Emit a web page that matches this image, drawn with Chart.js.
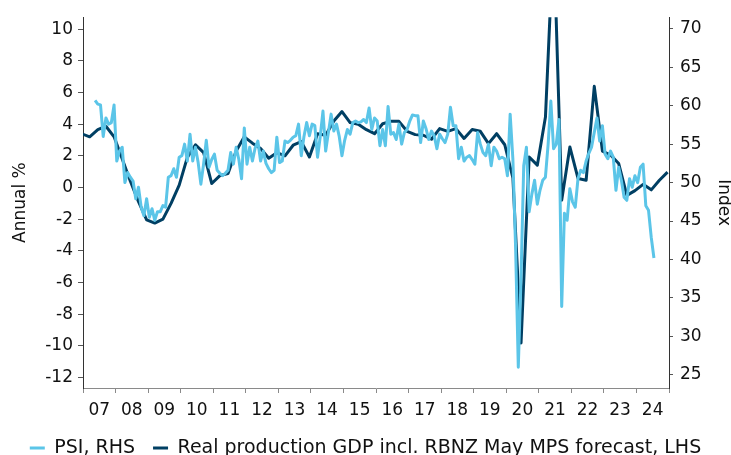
<!DOCTYPE html>
<html>
<head>
<meta charset="utf-8">
<script src="https://cdn.jsdelivr.net/npm/chart.js@4.4.1/dist/chart.umd.min.js"></script>
<style>
  html, body { margin: 0; padding: 0; background: #ffffff; }
</style>
</head>
<body>
<canvas id="data" width="731" height="455"></canvas>
<script>
// tick labels of the year axis
const yearLabels = ["07", "08", "09", "10", "11", "12", "13", "14", "15", "16", "17", "18", "19", "20", "21", "22", "23", "24"];

// PSI, monthly, from April 2007 to June 2024 (index, RHS)
const psiStart = [2007, 4];
const psiValues = [
  60.7, 60.2, 60.1, 56.0, 58.4, 57.6, 57.8, 60.1, 52.8, 54.1, 54.6, 50.0, 51.3, 50.7, 50.2, 47.9, 49.4, 46.8, 45.7, 47.9,
  45.5, 46.6, 45.1, 46.2, 46.2, 47.0, 46.8, 50.7, 50.9, 51.8, 50.7, 53.3, 53.5, 55.0, 52.8, 56.3, 52.8, 54.6, 52.6, 49.8,
  52.4, 55.5, 52.0, 53.0, 53.7, 51.6, 51.2, 50.9, 51.2, 51.6,
  53.9, 52.4, 54.6, 53.0, 50.5, 57.1, 52.4, 54.6, 52.8, 54.5, 55.4, 52.8, 54.1, 52.5, 51.8, 51.3, 51.6, 55.9, 52.6, 52.8,
  55.4, 55.2, 55.5, 55.9, 56.1, 57.6, 53.5, 56.0, 57.8, 56.1, 57.6, 57.4, 53.3, 56.0, 59.3, 54.1, 56.5, 58.9, 56.7, 57.6,
  56.0, 53.5, 55.5, 56.9, 56.3, 57.8, 58.0, 57.8, 57.9, 58.2, 57.8, 59.7, 56.9,
  58.4, 58.0, 54.8, 56.9, 54.8, 59.9, 56.3, 56.5, 55.6, 57.6, 55.0, 56.5, 56.9, 58.0, 58.8, 58.7, 58.7, 55.2, 58.0, 57.0,
  55.6, 56.7, 56.1, 54.4, 56.3, 55.7, 55.2, 56.3, 59.8, 57.4, 57.4, 53.1, 54.6, 52.8, 53.3, 53.5, 53.0, 52.4, 56.5, 55.0,
  53.9, 53.5, 55.0, 52.2, 54.6, 54.1, 53.1, 53.3, 53.1, 50.9, 58.9, 53.1,
  41.7, 26.0, 37.5, 52.2, 54.6, 46.2, 48.5, 50.3, 47.2, 49.0, 50.3, 50.7, 55.0, 60.6, 54.4, 55.0, 58.2, 33.9, 46.0, 45.1,
  49.2, 47.5, 46.8, 50.5, 51.6, 51.3, 52.8, 53.8, 54.6, 56.5, 58.4, 55.4, 57.4, 53.7, 53.1, 54.1, 53.3, 49.0, 52.0, 50.3,
  48.1, 47.7, 50.5, 49.4, 50.9, 50.0, 52.0, 52.4, 47.0, 46.4, 42.9, 40.2
];

// Real production GDP, annual %, quarterly from Dec 2006 to Dec 2024 (LHS)
const gdpStart = [2006, 12];
const gdpValues = [
  3.4, 3.2, 3.65, 3.87, 3.2, 1.8, 0.4, -0.9, -2.05, -2.25, -2.0, -1.0, 0.15, 1.9, 2.7, 2.2, 0.25, 0.75, 0.88,
  2.3, 3.2, 2.8, 2.46, 1.85, 2.2, 2.0, 2.67, 2.9, 1.93, 3.4, 3.3, 4.2, 4.8, 4.1, 4.0, 3.65,
  3.4, 4.03, 4.18, 4.18, 3.55, 3.34, 3.3, 3.05, 3.72, 3.55, 3.72, 3.1, 3.66, 3.55, 2.77, 3.4, 2.7, 0.6, -9.83,
  1.93, 1.41, 4.45, 16.0, -0.8, 2.56, 0.57, 0.46, 6.39, 2.3, 2.05, 1.51, -0.5, -0.2, 0.2, -0.15, 0.46, 0.97
];

const couleurPsi = "#5bc5e8";
const couleurGdp = "#003f63";

// decimal year of a month, as placed on the time axis
function position(debut, pas, i, decalage) {
  const mois = debut[1] + i * pas;
  return debut[0] + (mois + decalage) / 12;
}

const pointsPsi = psiValues.map((v, i) => ({ x: position(psiStart, 1, i, 0.45), y: v }));
const pointsGdp = gdpValues.map((v, i) => ({ x: position(gdpStart, 3, i, -0.54), y: v }));

Chart.defaults.font.family = "'DejaVu Sans', Verdana, sans-serif";
Chart.defaults.font.size = 17;
Chart.defaults.color = "#111111";

const canvas = document.getElementById("data");

const config = {
  type: "line",
  data: {
    datasets: [
      {
        label: "PSI, RHS",
        data: pointsPsi,
        yAxisID: "y1",
        borderColor: couleurPsi,
        backgroundColor: couleurPsi,
        borderWidth: 3,
        pointRadius: 0,
        tension: 0,
        borderJoinStyle: "round"
      },
      {
        label: "Real production GDP incl. RBNZ May MPS forecast, LHS",
        data: pointsGdp,
        yAxisID: "y",
        borderColor: couleurGdp,
        backgroundColor: couleurGdp,
        borderWidth: 3,
        pointRadius: 0,
        tension: 0,
        borderJoinStyle: "round"
      }
    ]
  },
  options: {
    responsive: false,
    animation: false,
    devicePixelRatio: 1,
    layout: {
      padding: { top: 15, left: 0, right: 0, bottom: -12.5 }
    },
    scales: {
      x: {
        type: "linear",
        min: 2007,
        max: 2025,
        afterFit: s => { s.height = 32.5; },
        border: { display: true, color: "#8a8a8a", width: 1 },
        grid: { drawOnChartArea: false, drawTicks: true, tickLength: 5, color: "#8a8a8a" },
        ticks: {
          stepSize: 1,
          autoSkip: false,
          maxRotation: 0,
          padding: 7,
          labelOffset: 16.2,
          callback: (v, i) => yearLabels[i] ?? ""
        }
      },
      y: {
        position: "left",
        min: -12.67,
        max: 10.76,
        afterFit: s => { s.width = 83; },
        border: { display: true, color: "#333333", width: 1 },
        grid: { drawOnChartArea: false, drawTicks: true, tickLength: 5, color: "#555555" },
        ticks: { stepSize: 2, includeBounds: false, padding: 5 },
        title: { display: true, text: "Annual %", padding: { top: 10, bottom: 0 } }
      },
      y1: {
        position: "right",
        min: 23.3,
        max: 71.5,
        afterFit: s => { s.width = 62; },
        border: { display: true, color: "#333333", width: 1 },
        grid: { drawOnChartArea: false, drawTicks: true, tickLength: 4, color: "#555555" },
        ticks: { stepSize: 5, includeBounds: false, padding: 7 },
        title: { display: true, text: "Index", padding: { top: -3, bottom: 0 } }
      }
    },
    plugins: {
      legend: {
        position: "bottom",
        labels: {
          boxWidth: 15,
          boxHeight: 3,
          padding: 18,
          color: "#111111",
          font: { size: 19 },
          generateLabels: chart =>
            Chart.defaults.plugins.legend.labels.generateLabels(chart).map(l => Object.assign(l, { lineWidth: 0 }))
        }
      },
      tooltip: { enabled: false }
    }
  }
};

const myChart = new Chart(canvas, config);
</script>
</body>
</html>
